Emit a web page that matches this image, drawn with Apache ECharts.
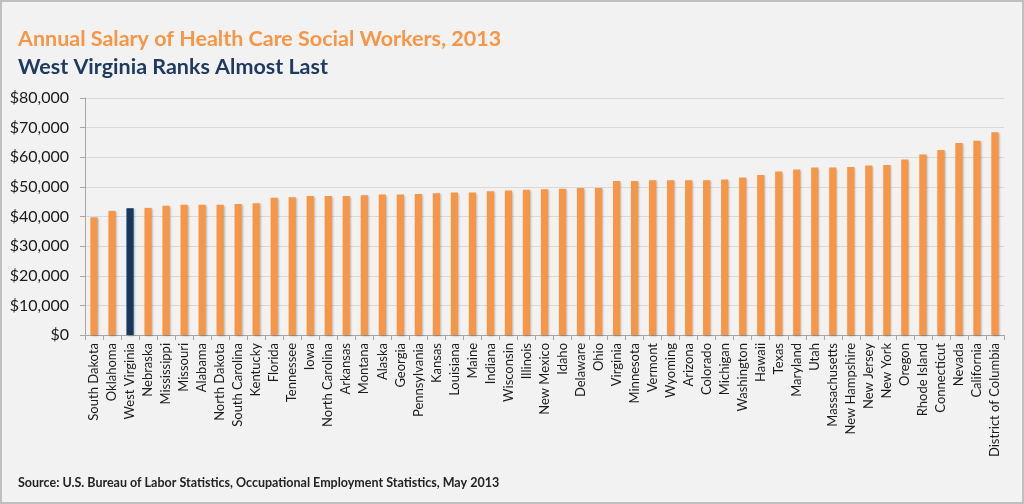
<!DOCTYPE html>
<html>
<head>
<meta charset="utf-8">
<script src="https://cdn.jsdelivr.net/npm/echarts@6/dist/echarts.min.js"></script>
<style>
html,body{margin:0;padding:0;background:#f2f2f2;}
#frame{position:absolute;left:0;top:0;width:1020px;height:500px;border:2px solid #bfbfbf;background:#f2f2f2;}
#chart{position:absolute;left:0;top:0;width:1024px;height:504px;}
</style>
</head>
<body>
<div id="frame"></div>
<div id="chart"></div>
<script>
const categories = ["South Dakota","Oklahoma","West Virginia","Nebraska","Mississippi","Missouri","Alabama","North Dakota","South Carolina","Kentucky","Florida","Tennessee","Iowa","North Carolina","Arkansas","Montana","Alaska","Georgia","Pennsylvania","Kansas","Louisiana","Maine","Indiana","Wisconsin","Illinois","New Mexico","Idaho","Delaware","Ohio","Virginia","Minnesota","Vermont","Wyoming","Arizona","Colorado","Michigan","Washington","Hawaii","Texas","Maryland","Utah","Massachusetts","New Hampshire","New Jersey","New York","Oregon","Rhode Island","Connecticut","Nevada","California","District of Columbia"];
const salaries = [39700,41900,42800,42900,43600,44000,44000,44000,44250,44500,46300,46500,46950,46950,46950,47200,47400,47400,47600,47850,48100,48100,48500,48750,49000,49200,49400,49650,49650,52000,52000,52250,52250,52250,52250,52450,53150,54050,55150,55850,56500,56500,56750,57200,57400,59200,60900,62450,64800,65600,68400];
const highlighted = "West Virginia";
const yTicks = {min:0, max:80000, interval:10000};
const titleText = "Annual Salary of Health Care Social Workers, 2013";
const subtitleText = "West Virginia Ranks Almost Last";
const sourceLabel = "Source:";
const sourceText = " U.S. Bureau of Labor Statistics, Occupational Employment Statistics, May 2013";

const FONT = "Lato";
const chart = echarts.init(document.getElementById('chart'), null, {renderer:'canvas'});
chart.setOption({
  backgroundColor: 'transparent',
  animation: false,
  title: [
    {text: titleText, left: 13, top: 23, textStyle:{fontFamily:FONT, fontSize:21.5, fontWeight:'bold', color:'#f79646'}},
    {text: subtitleText, left: 13, top: 51, textStyle:{fontFamily:FONT, fontSize:21.5, fontWeight:'bold', color:'#1f3a60'}},
    {text: '{b|' + sourceLabel + '}{n|' + sourceText + '}', left: 13, top: 471,
     textStyle:{rich:{b:{fontFamily:FONT, fontSize:12.5, fontWeight:'bold', color:'#222'}, n:{fontFamily:FONT, fontSize:12.5, color:'#222'}}}}
  ],
  grid: {left: 85, right: 20, top: 98, bottom: 169, containLabel: false},
  xAxis: {
    type: 'category',
    data: categories,
    axisLine: {show:true, lineStyle:{color:'#a6a6a6', width:1}},
    axisTick: {show:true, length:5, lineStyle:{color:'#a6a6a6'}},
    axisLabel: {rotate: 90, interval: 0, margin: 8, fontFamily: FONT, fontSize: 13, color:'#1a1a1a'}
  },
  yAxis: {
    type: 'value',
    min: yTicks.min, max: yTicks.max, interval: yTicks.interval,
    axisLine: {show:true, lineStyle:{color:'#a6a6a6', width:1}},
    axisTick: {show:true, length:5, inside:false, lineStyle:{color:'#a6a6a6'}},
    axisLabel: {margin: 16, fontFamily: FONT, fontSize: 16, color:'#1a1a1a',
      formatter: v => '$' + v.toLocaleString('en-US')},
    splitLine: {show:true, lineStyle:{color:'#d9d9d9', width:1}}
  },
  series: [{
    type: 'bar',
    barWidth: '40%',
    data: salaries.map((v,i) => ({
      value: v,
      itemStyle: {color: categories[i] === highlighted ? '#17375e' : '#f79646'}
    })),
    itemStyle: {shadowColor:'rgba(0,0,0,0.25)', shadowBlur:2, shadowOffsetX:1, shadowOffsetY:1}
  }]
});
</script>
</body>
</html>
